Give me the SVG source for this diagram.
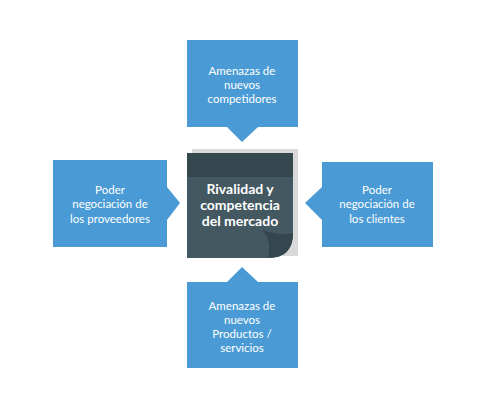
<svg xmlns="http://www.w3.org/2000/svg" width="487" height="408" viewBox="0 0 487 408">
<style>
.box{fill:#4a9bd5}
.t{font-family:Lato,"Liberation Sans",sans-serif;font-size:11.5px;fill:#ffffff;text-anchor:middle}
.c{font-family:Lato,"Liberation Sans",sans-serif;font-size:14px;font-weight:bold;fill:#ffffff;text-anchor:middle}
</style>
<rect width="487" height="408" fill="#ffffff"/>
<g id="top">
<path class="box" d="M187 40H298V127H258L242 142L227 127H187Z"/>
<text class="t" x="242" y="75">Amenazas de</text>
<text class="t" x="242" y="89">nuevos</text>
<text class="t" x="242" y="103">competidores</text>
</g>
<g id="left">
<path class="box" d="M53 160H167V187L180 203L167 220V247H53Z"/>
<text class="t" x="110" y="194">Poder</text>
<text class="t" x="110" y="208">negociación de</text>
<text class="t" x="110" y="223">los proveedores</text>
</g>
<g id="right">
<path class="box" d="M322 162H433V247H322V220L305 203L322 187Z"/>
<text class="t" x="377" y="194">Poder</text>
<text class="t" x="377" y="208">negociación de</text>
<text class="t" x="377" y="223">los clientes</text>
</g>
<g id="bottom">
<path class="box" d="M187 282H227L242 267L258 282H298V368H187Z"/>
<text class="t" x="242" y="310">Amenazas de</text>
<text class="t" x="242" y="324">nuevos</text>
<text class="t" x="242" y="338">Productos /</text>
<text class="t" x="242" y="352">servicios</text>
</g>
<g id="center">
<rect x="192" y="149" width="106" height="107" fill="#d9d9d9"/>
<path d="M187 153H293V233Q293 258 268 258H187Z" fill="#435860"/>
<path d="M187 153H293V177H187Z" fill="#354850"/>
<path d="M293 233Q293 258 268 258Q272 240 262 230Q280 236 293 233Z" fill="#34464e"/>
<text class="c" x="240" y="194">Rivalidad y</text>
<text class="c" x="240" y="210">competencia</text>
<text class="c" x="240" y="226">del mercado</text>
</g>
<g id="connectors"></g>
</svg>
